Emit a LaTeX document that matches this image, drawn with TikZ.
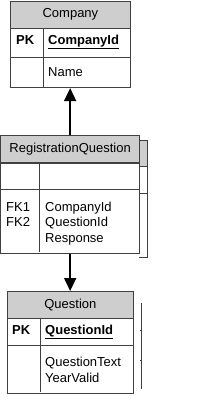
\documentclass[tikz,border=0pt]{standalone}
\usepackage{fontspec}
\setmainfont{Liberation Sans}
\usetikzlibrary{arrows.meta,positioning}
\definecolor{linegray}{RGB}{64,64,64}
\definecolor{hdrgray}{RGB}{206,206,206}

\tikzset{
  tbl/.style={draw=linegray,line width=0.8pt},
  hdr/.style={tbl,fill=hdrgray,anchor=north west,inner sep=0pt},
  cell/.style={tbl,fill=white,anchor=north west,inner sep=0pt},
  txt/.style={anchor=base west,inner sep=0pt},
  key/.style={txt,font=\fontsize{13}{16}\selectfont\bfseries},
  link/.style={line width=1.7pt,-{Triangle[width=12pt,length=13pt]}},
}

\begin{document}
\begin{tikzpicture}[x=1pt,y=-1pt,font=\fontsize{13}{16}\selectfont]
  \useasboundingbox (0,0) rectangle (200,400);
  % Company
  \node[hdr,minimum width=120pt,minimum height=27pt] (company) at (10,0.5) {Company};
  \node[cell,minimum width=120pt,minimum height=59pt] (company-body) at (company.south west) {};
  \draw[tbl] (10,57) -- (130,57);
  \draw[tbl] (43,27.5) -- (43,86.5);
  \node[key] (company-pk) at (16,44) {PK};
  \node[key] (company-id) at (48,44) {\underline{CompanyId}};
  \node[txt] (company-name) at (48,76) {Name};
  % RegistrationQuestion, with the edge of its shadow
  \filldraw[tbl,fill=hdrgray] (139,140) -- (147,140) -- (147,166.5) -- (139,166.5);
  \draw[tbl] (147,166.5) -- (147,257.5) -- (139,257.5);
  \draw[tbl] (139,193.5) -- (147,193.5);
  \node[hdr,minimum width=138.5pt,minimum height=27pt] (regq) at (0.5,135) {RegistrationQuestion};
  \node[cell,minimum width=138.5pt,minimum height=90pt] (regq-body) at (regq.south west) {};
  \draw[tbl] (0.5,189) -- (139,189);
  \draw[tbl] (39,162) -- (39,252);
  \node[txt] (regq-fk1) at (6,211) {FK1};
  \node[txt] (regq-fk2) at (6,226.5) {FK2};
  \node[txt] (regq-company) at (45,211) {CompanyId};
  \node[txt] (regq-question) at (45,226.5) {QuestionId};
  \node[txt] (regq-response) at (45,242) {Response};
  % Question
  \draw[tbl] (141,303) -- (141,389);
  \draw[tbl] (139.5,330) -- (141,330);
  \draw[tbl] (139.5,360) -- (141,360);
  \node[hdr,minimum width=126pt,minimum height=26.5pt] (question) at (7,291) {Question};
  \node[cell,minimum width=126pt,minimum height=74.5pt] (question-body) at (question.south west) {};
  \draw[tbl] (7,345) -- (133,345);
  \draw[tbl] (40,317.5) -- (40,392);
  \node[key] (question-pk) at (12,334) {PK};
  \node[key] (question-id) at (45,334) {\underline{QuestionId}};
  \node[txt] (question-text) at (45,366.5) {QuestionText};
  \node[txt] (question-year) at (45,382.5) {YearValid};
  % links
  \draw[link] (regq.north) -- (regq.north |- company-body.south);
  \draw[link] (regq-body.south) -- (regq-body.south |- question.north);
\end{tikzpicture}
\end{document}
